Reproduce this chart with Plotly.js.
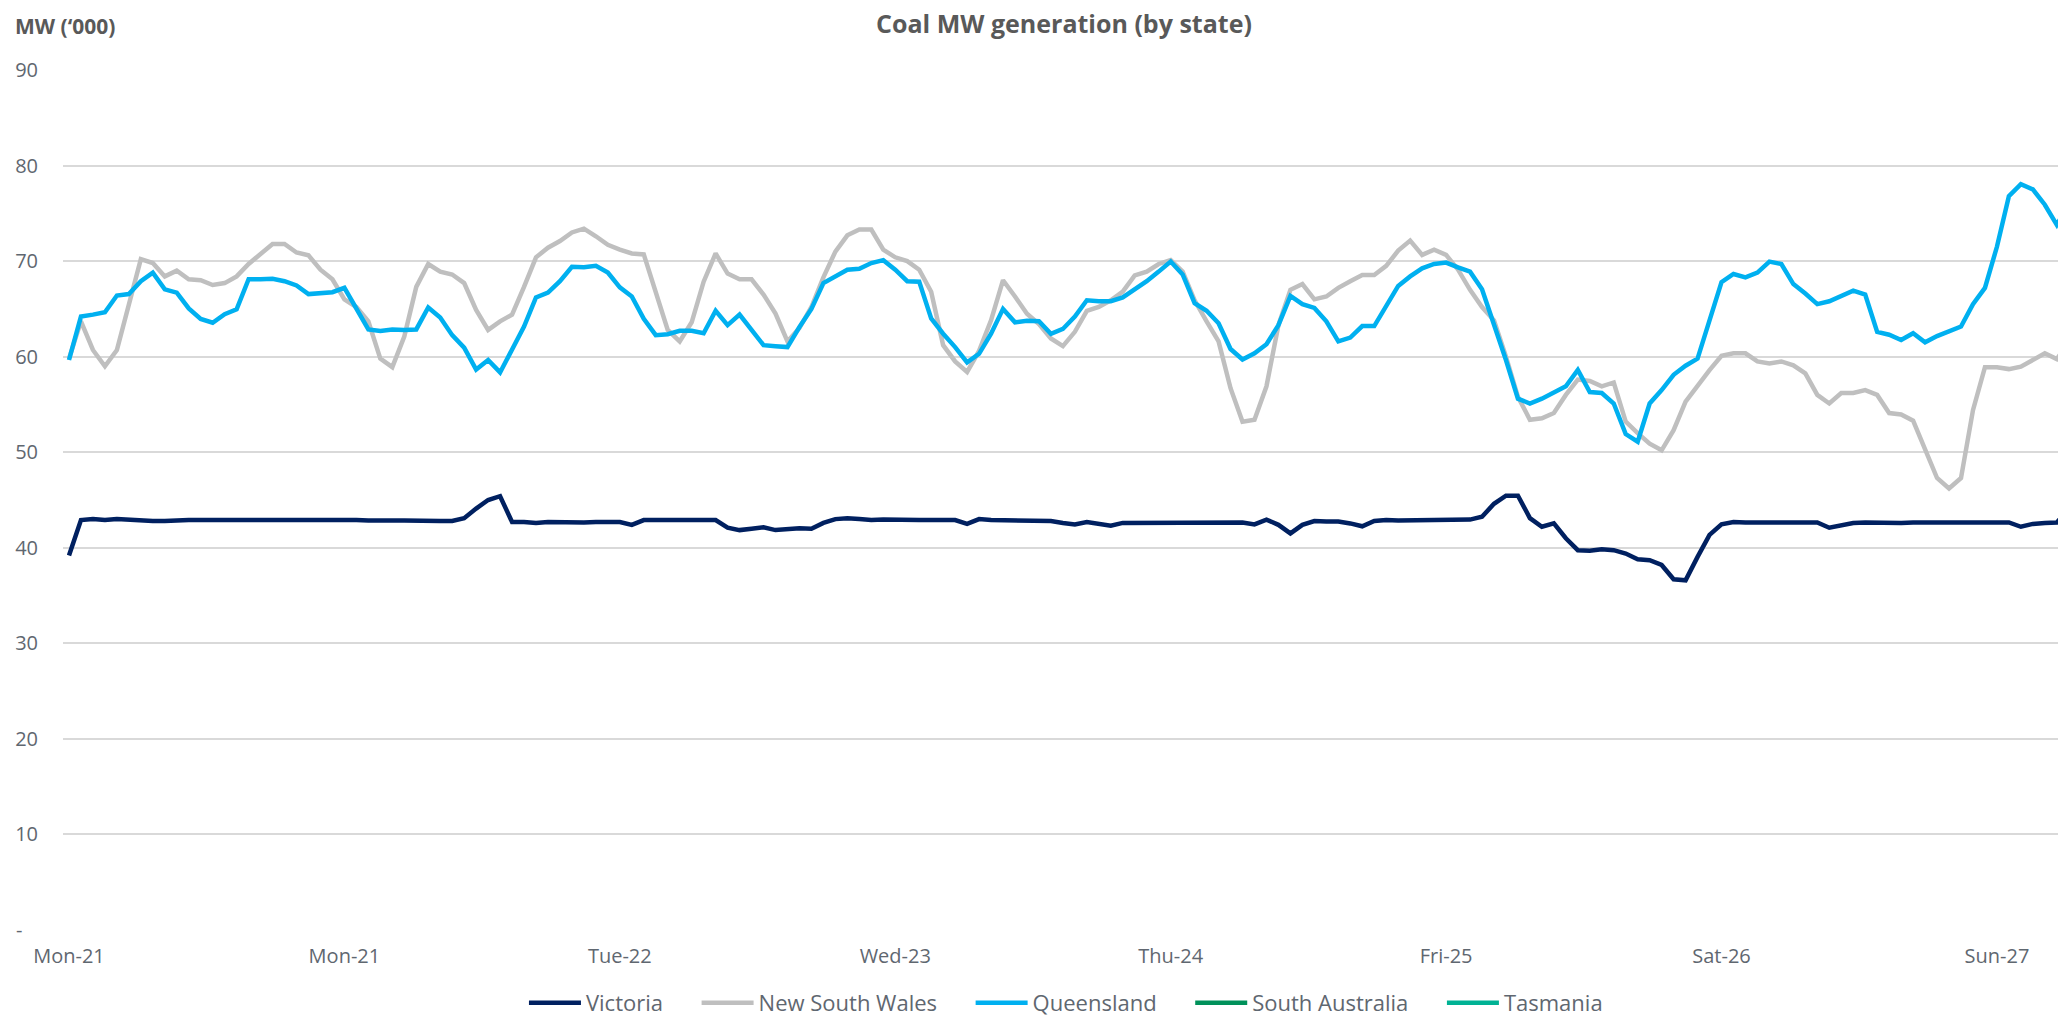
<!DOCTYPE html>
<html>
<head>
<meta charset="utf-8">
<script src="https://cdn.plot.ly/plotly-3.0.1.min.js"></script>
<style>
  html, body { margin: 0; padding: 0; background: #ffffff; }
  #chart { width: 2058px; height: 1018px; }
</style>
</head>
<body>
<div id="chart"></div>
<script>
// Axis tick labels (one every 23 hourly points)
const dayLabels = ['Mon-21', 'Mon-21', 'Tue-22', 'Wed-23', 'Thu-24', 'Fri-25', 'Sat-26', 'Sun-27'];
const yTickValues = [0, 10, 20, 30, 40, 50, 60, 70, 80, 90];
const yTickLabels = ['-\u00a0\u00a0\u00a0', '10', '20', '30', '40', '50', '60', '70', '80', '90'];

// Coal MW generation ('000), hourly
const victoria = [
  39.2, 42.9, 43.0, 42.9, 43.0, 42.9, 42.8, 42.8, 42.8, 42.9,
  42.9, 42.9, 42.9, 42.9, 42.9, 42.9, 43.0, 43.0, 42.9, 42.9,
  42.9, 42.9, 43.0, 42.9, 42.9, 42.85, 42.8, 42.85, 42.85, 42.8,
  42.8, 42.8, 42.8, 43.1, 44.1, 45.0, 45.4, 42.7, 42.7, 42.6,
  42.7, 42.65, 42.7, 42.65, 42.7, 42.7, 42.7, 42.4, 42.9, 42.9,
  42.9, 42.9, 42.9, 42.9, 42.9, 42.1, 41.85, 42.0, 42.15, 41.85,
  42.0, 42.05, 42.0, 42.6, 43.0, 43.1, 43.0, 42.9, 42.95, 42.9,
  42.9, 42.9, 42.9, 42.9, 42.9, 42.5, 43.0, 42.9, 42.9, 42.85,
  42.85, 42.85, 42.8, 42.6, 42.45, 42.7, 42.5, 42.3, 42.6, 42.6,
  42.6, 42.6, 42.6, 42.6, 42.6, 42.65, 42.65, 42.65, 42.65, 42.45,
  42.95, 42.4, 41.5, 42.4, 42.8, 42.75, 42.75, 42.55, 42.25, 42.8,
  42.9, 42.85, 42.85, 42.85, 42.85, 42.85, 42.85, 42.95, 43.25, 44.6,
  45.45, 45.45, 43.1, 42.2, 42.55, 41.0, 39.75, 39.7, 39.85, 39.75,
  39.4, 38.8, 38.7, 38.2, 36.7, 36.6, 39.05, 41.35, 42.45, 42.7,
  42.65, 42.65, 42.65, 42.6, 42.65, 42.65, 42.65, 42.1, 42.35, 42.6,
  42.65, 42.6, 42.6, 42.6, 42.65, 42.65, 42.6, 42.6, 42.6, 42.6,
  42.65, 42.65, 42.65, 42.2, 42.5, 42.6, 42.65, 44.0
];
const newSouthWales = [
  59.8, 63.7, 60.7, 59.0, 60.7, 65.5, 70.2, 69.8, 68.4, 69.0,
  68.1, 68.0, 67.5, 67.7, 68.4, 69.7, 70.8, 71.8, 71.8, 70.9,
  70.6, 69.1, 68.1, 66.0, 65.2, 63.7, 59.8, 58.9, 62.1, 67.3,
  69.7, 68.9, 68.6, 67.7, 64.9, 62.8, 63.7, 64.4, 67.3, 70.4,
  71.4, 72.1, 73.0, 73.4, 72.6, 71.7, 71.2, 70.8, 70.7, 66.6,
  62.8, 61.6, 63.6, 67.85, 70.8, 68.7, 68.1, 68.1, 66.5, 64.5,
  61.6, 63.0, 65.2, 68.3, 71.0, 72.7, 73.3, 73.3, 71.2, 70.4,
  70.0, 69.1, 66.8, 61.2, 59.5, 58.4, 60.6, 63.8, 68.0, 66.3,
  64.5, 63.4, 61.9, 61.1, 62.6, 64.8, 65.2, 65.9, 66.8, 68.5,
  68.9, 69.7, 70.1, 68.9, 65.9, 63.7, 61.6, 56.7, 53.2, 53.4,
  56.9, 63.3, 67.0, 67.6, 66.0, 66.3, 67.2, 67.9, 68.55, 68.55,
  69.5, 71.1, 72.15, 70.65, 71.2, 70.65, 69.1, 67.0, 65.2, 63.8,
  60.0, 55.8, 53.4, 53.55, 54.1, 56.0, 57.6, 57.45, 56.9, 57.3,
  53.2, 52.0, 50.9, 50.2, 52.3, 55.3, 57.0, 58.6, 60.1, 60.35,
  60.35, 59.5, 59.3, 59.5, 59.1, 58.25, 56.0, 55.1, 56.2, 56.2,
  56.5, 56.0, 54.1, 53.95, 53.3, 50.4, 47.3, 46.2, 47.3, 54.4,
  58.9, 58.9, 58.7, 58.95, 59.6, 60.35, 59.75, 61.5
];
const queensland = [
  59.65, 64.2, 64.4, 64.65, 66.4, 66.55, 67.9, 68.8, 67.05, 66.7,
  65.05, 63.95, 63.55, 64.45, 64.95, 68.1, 68.1, 68.15, 67.9, 67.45,
  66.55, 66.7, 66.75, 67.2, 65.05, 62.85, 62.7, 62.85, 62.8, 62.85,
  65.15, 64.1, 62.25, 60.95, 58.65, 59.65, 58.35, 60.85, 63.15, 66.2,
  66.7, 67.9, 69.4, 69.35, 69.5, 68.8, 67.25, 66.3, 63.95, 62.25,
  62.35, 62.7, 62.7, 62.45, 64.8, 63.3, 64.4, 62.8, 61.2, 61.1,
  61.0, 63.1, 65.0, 67.7, 68.4, 69.1, 69.2, 69.8, 70.1, 69.1,
  67.9, 67.85, 64.0, 62.4, 61.0, 59.4, 60.3, 62.4, 65.0, 63.6,
  63.75, 63.7, 62.4, 62.9, 64.2, 65.9, 65.8, 65.8, 66.2, 67.05,
  67.9, 68.9, 69.95, 68.6, 65.6, 64.8, 63.5, 60.8, 59.7, 60.35,
  61.3, 63.3, 66.35, 65.5, 65.1, 63.7, 61.6, 62.0, 63.2, 63.2,
  65.2, 67.4, 68.4, 69.25, 69.7, 69.85, 69.35, 68.9, 67.05, 63.4,
  59.65, 55.6, 55.1, 55.6, 56.3, 56.9, 58.6, 56.3, 56.2, 55.1,
  51.9, 51.1, 55.1, 56.5, 58.1, 59.05, 59.8, 64.0, 67.8, 68.65,
  68.3, 68.8, 69.95, 69.7, 67.6, 66.6, 65.5, 65.8, 66.35, 66.9,
  66.5, 62.6, 62.3, 61.75, 62.45, 61.5, 62.15, 62.7, 63.15, 65.5,
  67.2, 71.5, 76.8, 78.05, 77.5, 75.9, 73.8, 76.0
];
// No coal generation plotted for these states (legend entries only)
const southAustralia = [null];
const tasmania = [null];

const seriesNames = ['Victoria', 'New South Wales', 'Queensland', 'South Australia', 'Tasmania'];
const seriesColors = ['#002060', '#BFBFBF', '#00B0F0', '#00915A', '#00B294'];
const seriesValues = [victoria, newSouthWales, queensland, southAustralia, tasmania];

const labelStep = 23;
const tickPositions = dayLabels.map((_, k) => k * labelStep);
const legendPad = '\u00a0\u00a0\u00a0\u00a0\u00a0';

const traces = seriesValues.map((vals, s) => ({
  type: 'scatter',
  mode: 'lines',
  name: seriesNames[s] + legendPad,
  x: vals.map((_, i) => i),
  y: vals,
  line: { color: seriesColors[s], width: 4.5 },
  showlegend: true,
  hovertemplate: seriesNames[s] + ': %{y}<extra></extra>'
}));

const textColor = '#5f6770';
const FONT = '"Open Sans", "Liberation Sans", sans-serif';

const layout = {
  width: 2058,
  height: 1018,
  paper_bgcolor: '#ffffff',
  plot_bgcolor: '#ffffff',
  font: { family: FONT, color: textColor, size: 20 },
  margin: { l: 63, r: 0, t: 70, b: 88, pad: 0 },
  showlegend: true,
  title: {
    text: '<b>Coal MW generation (by state)</b>',
    font: { family: FONT, size: 25, color: '#595959' },
    xref: 'container', x: 0.517, xanchor: 'center',
    yref: 'container', y: 0.976, yanchor: 'middle'
  },
  xaxis: {
    type: 'linear',
    range: [-0.5, 166.1],
    tickmode: 'array',
    tickvals: tickPositions,
    ticktext: dayLabels,
    showgrid: false,
    zeroline: false,
    showline: false,
    ticks: '',
    ticklabelstandoff: 12,
    tickfont: { family: FONT, size: 20, color: textColor },
    fixedrange: true
  },
  yaxis: {
    range: [0, 90],
    tickmode: 'array',
    tickvals: yTickValues,
    ticktext: yTickLabels,
    showgrid: true,
    gridcolor: '#d9d9d9',
    gridwidth: 1.6,
    zeroline: false,
    showline: false,
    ticks: '',
    ticklabelstandoff: 24,
    tickfont: { family: FONT, size: 20, color: textColor },
    fixedrange: true
  },
  legend: {
    orientation: 'h',
    xref: 'container', x: 0.525, xanchor: 'center',
    yref: 'container', y: 0.0147, yanchor: 'middle',
    itemwidth: 52,
    font: { family: FONT, size: 22, color: textColor },
    bgcolor: 'rgba(0,0,0,0)'
  },
  annotations: [{
    text: '<b>MW (\u2018000)</b>',
    xref: 'paper', yref: 'paper',
    x: -0.0251, xanchor: 'left',
    y: 1.0512, yanchor: 'middle',
    showarrow: false,
    font: { family: FONT, size: 21, color: '#595959' }
  }]
};

Plotly.newPlot('chart', traces, layout, { displayModeBar: false, responsive: false });
</script>
</body>
</html>
